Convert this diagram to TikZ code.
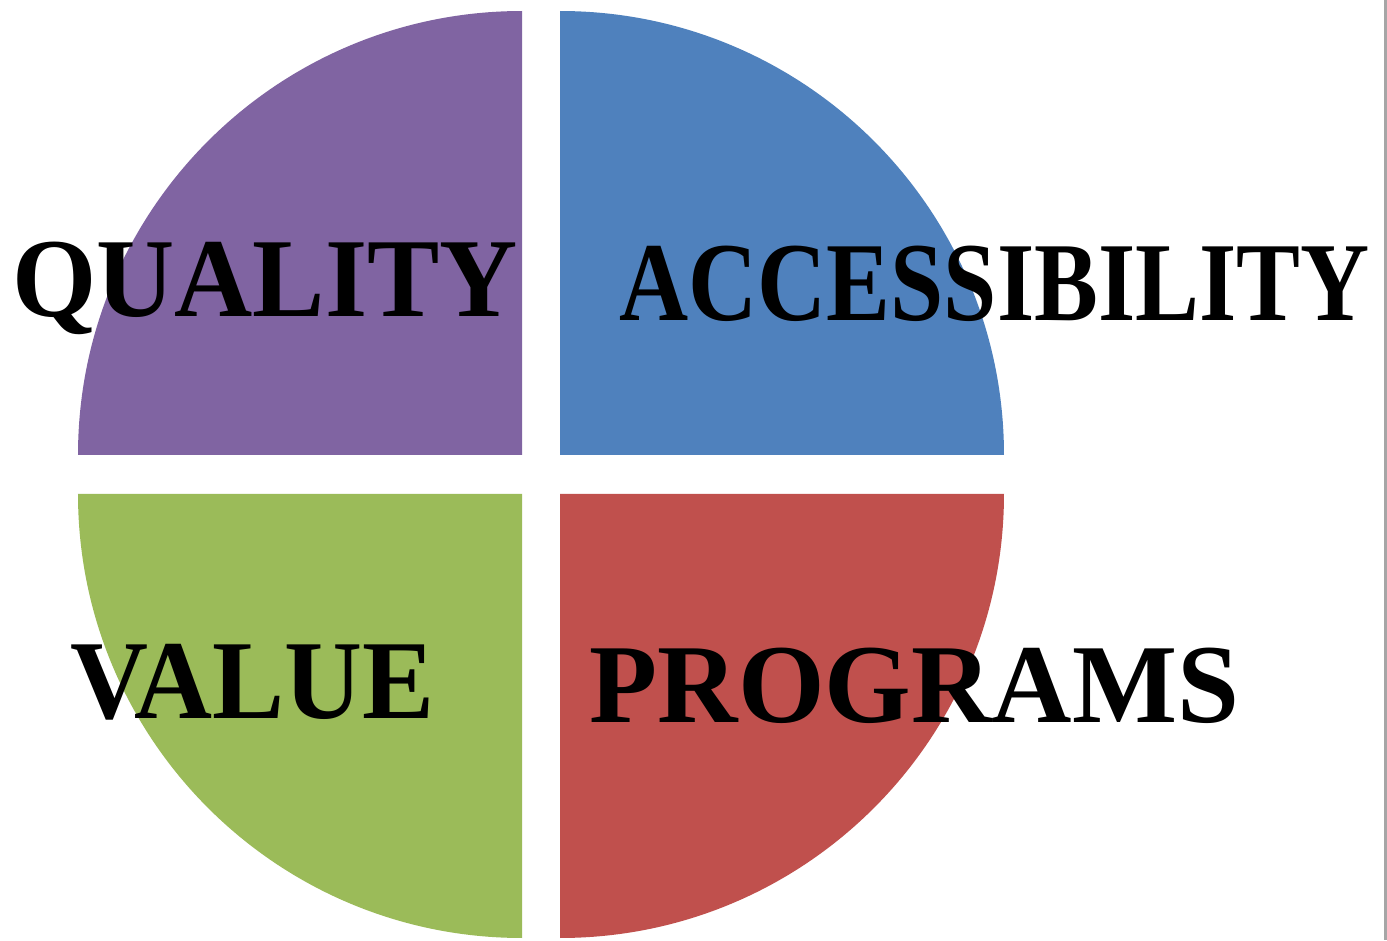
\documentclass[tikz,border=0pt]{standalone}
\usepackage{fontspec}
\setmainfont{Liberation Serif}
\definecolor{qualpurple}{HTML}{8064A2}
\definecolor{accblue}{HTML}{4F81BD}
\definecolor{valgreen}{HTML}{9BBB59}
\definecolor{progred}{HTML}{C0504D}
\tikzset{
	label text/.style={anchor=base, inner sep=0pt, transform shape,
		font=\fontsize{32}{38}\selectfont\bfseries}
}
\begin{document}
\begin{tikzpicture}
	\useasboundingbox (0,0) rectangle (13.87,9.40);
	% four quarter wedges
	\fill[qualpurple]	(5.22,4.85) -- ++(-4.44,0) arc[start angle=180, end angle=90, radius=4.44] -- cycle;
	\fill[accblue]		(5.60,4.85) -- ++(0,4.44) arc[start angle=90, end angle=0, radius=4.44] -- cycle;
	\fill[valgreen]		(5.22,4.46) -- ++(-4.44,0) arc[start angle=180, end angle=270, radius=4.44] -- cycle;
	\fill[progred]		(5.60,4.46) -- ++(4.44,0) arc[start angle=0, end angle=-90, radius=4.44] -- cycle;
	\draw[gray!70, line width=0.6pt] (13.855,0) -- (13.855,9.40);
	% labels
	\node (Q) at (2.65, 6.24)	[label text, xscale=0.963]	{QUALITY};
	\node (A) at (9.945, 6.20)	[label text, xscale=0.851]	{ACCESSIBILITY};
	\node (V) at (2.525, 2.22)	[label text, xscale=0.96]	{VALUE};
	\node (P) at (9.145, 2.17)	[label text, xscale=0.99]	{PROGRAMS};
\end{tikzpicture}
\end{document}
